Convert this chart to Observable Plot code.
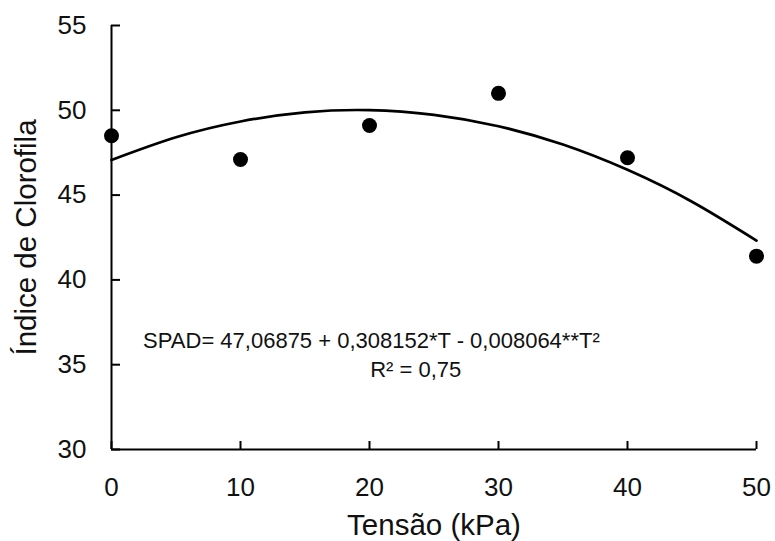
<!DOCTYPE html>
<html>
<head>
<meta charset="utf-8">
<script src="https://cdn.jsdelivr.net/npm/d3@7"></script>
<script src="https://cdn.jsdelivr.net/npm/@observablehq/plot@0.6"></script>
<style>
  html, body { margin: 0; padding: 0; background: #fff; }
  #chart { width: 775px; height: 541px; }
</style>
</head>
<body>
<div id="chart"></div>
<script>
// Observed points
const tension = [0, 10, 20, 30, 40, 50];
const spad = [48.5, 47.1, 49.1, 51.0, 47.2, 41.4];

// Fitted curve values
const curveT = [0, 5, 10, 15, 20, 25, 30, 35, 40, 45, 50];
const curveV = [47.07, 48.41, 49.34, 49.88, 50.01, 49.73, 49.06, 47.98, 46.49, 44.61, 42.32];

const xTicks = [0, 10, 20, 30, 40, 50];
const yTicks = [30, 35, 40, 45, 50, 55];

const xLabel = "Tensão (kPa)";
const yLabel = "Índice de Clorofila";
const eqLines = ["SPAD= 47,06875 + 0,308152*T - 0,008064**T²", "R² = 0,75"];
const eqX = [2.45, 20.05];
const eqY = [36.4, 34.7];

const points = tension.map((t, i) => ({t, v: spad[i]}));
const curve = curveT.map((t, i) => ({t, v: curveV[i]}));
const eq = eqLines.map((s, i) => ({s, x: eqX[i], y: eqY[i]}));

const font = "Liberation Sans, Arial, sans-serif";

const chart = Plot.plot({
  width: 775,
  height: 541,
  marginLeft: 111,
  marginRight: 19,
  marginTop: 25,
  marginBottom: 92,
  style: {fontFamily: font, background: "#fff", color: "#000"},
  x: {domain: [0, 50]},
  y: {domain: [30, 55]},
  marks: [
    // tick marks (inward)
    Plot.axisX(xTicks, {anchor: "bottom", tickSize: 8, dy: -8, tickFormat: () => "", strokeWidth: 2, label: null}),
    Plot.axisY(yTicks, {anchor: "left", tickSize: 9, dx: 9, tickFormat: () => "", strokeWidth: 2, label: null}),
    // tick labels
    Plot.axisX(xTicks, {anchor: "bottom", tickSize: 0, tickPadding: 28, fontSize: 26, fill: "#111", label: null}),
    Plot.axisY(yTicks, {anchor: "left", tickSize: 0, tickPadding: 25, fontSize: 26, fill: "#111", label: null}),
    // axis lines
    Plot.ruleX([0], {stroke: "#000", strokeWidth: 2}),
    Plot.ruleY([30], {stroke: "#000", strokeWidth: 2}),
    // fitted curve
    Plot.line(curve, {x: "t", y: "v", curve: "natural", stroke: "#000", strokeWidth: 2.7}),
    // points
    Plot.dot(points, {x: "t", y: "v", r: 7.5, fill: "#000", stroke: null}),
    // equation
    Plot.text(eq, {x: "x", y: "y", text: "s", textAnchor: "start", lineAnchor: "middle", fontSize: 22, fill: "#111"}),
    // axis titles
    Plot.text([xLabel], {frameAnchor: "bottom", dy: 65, textAnchor: "middle", lineAnchor: "top", fontSize: 29.5, fill: "#111"}),
    Plot.text([yLabel], {frameAnchor: "left", dx: -85, rotate: -90, textAnchor: "middle", lineAnchor: "middle", fontSize: 29.5, fill: "#111"})
  ]
});
document.getElementById("chart").append(chart);
</script>
</body>
</html>
